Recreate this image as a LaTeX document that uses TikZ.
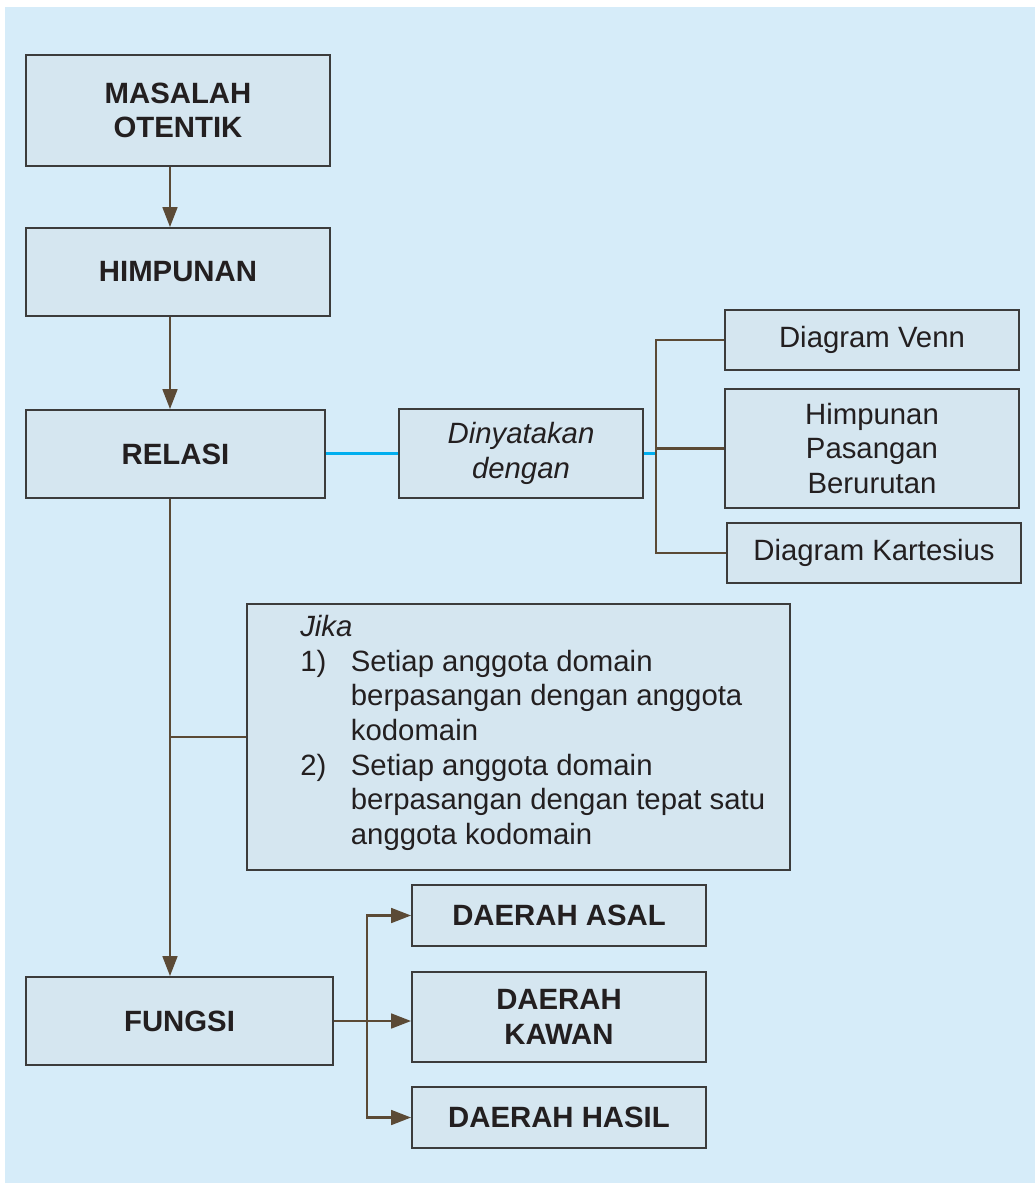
\documentclass[tikz,border=0pt]{standalone}
\usepackage{fontspec}
\setmainfont{Liberation Sans}
\usetikzlibrary{positioning}
\usetikzlibrary{arrows.meta}
\definecolor{panel}{HTML}{D6ECF9}
\definecolor{boxfill}{HTML}{D5E6F0}
\definecolor{boxline}{HTML}{3C3C3C}
\definecolor{linkbrown}{HTML}{5B4A36}
\definecolor{linkblue}{HTML}{00AEEF}
\definecolor{ink}{HTML}{231F20}
\tikzset{
  box/.style={draw=boxline, line width=1.3pt, fill=boxfill, text=ink, align=center,
    inner sep=0pt, font=\fontsize{22}{26}\selectfont},
  title/.style={box, font=\fontsize{22}{26}\selectfont\bfseries},
  link/.style={draw=linkbrown, line width=2pt},
  arrow/.style={link, -{Triangle[length=15pt,width=11pt]}},
  bluelink/.style={draw=linkblue, line width=2pt}
}

\begin{document}
\begin{tikzpicture}[x=0.75pt,y=-0.75pt]
            % background panel
            \useasboundingbox (0,0) rectangle (1035,1183);
            \fill[white] (0,0) rectangle (1035,1183);
            \fill[panel] (5,7) rectangle (1035,1183);
            % main column
            \node[title, minimum width=228pt, minimum height=83.25pt] (masalah) at (178,110.5) {MASALAH\\OTENTIK};
            \node[title, minimum width=228pt, minimum height=66pt] (himpunan) at (178,272) {HIMPUNAN};
            \node[title, minimum width=224.25pt, minimum height=66pt] (relasi) at (175.5,454) {RELASI};
            \node[title, minimum width=230.25pt, minimum height=66pt] (fungsi) at (179.5,1021) {FUNGSI};
            \coordinate (spine) at (170,0);
            \draw[arrow] (spine |- masalah.south) -- (spine |- himpunan.north);
            \draw[arrow] (spine |- himpunan.south) -- (spine |- relasi.north);
            \draw[arrow] (spine |- relasi.south) -- (spine |- fungsi.north);
            % representations of a relation
            \node[box, minimum width=183pt, minimum height=66.75pt, font=\fontsize{22}{26}\selectfont\itshape] (dinyatakan) at (521,453.5) {Dinyatakan\\dengan};
            \node[box, minimum width=220.5pt, minimum height=45pt] (venn) at (872,340) {Diagram Venn};
            \node[box, minimum width=220.5pt, minimum height=89.25pt] (pasangan) at (872,448.5) {Himpunan\\Pasangan\\Berurutan};
            \node[box, minimum width=220.5pt, minimum height=45pt] (kartesius) at (874,553) {Diagram Kartesius};
            \coordinate (bracket) at (656,453.5);
            \draw[bluelink] (relasi.east |- dinyatakan.west) -- (dinyatakan.west);
            \draw[bluelink] (dinyatakan.east) -- (bracket);
            \draw[link] (venn.west) -| (bracket |- kartesius.west) -- (kartesius.west);
            \draw[link] (bracket |- pasangan.west) -- (pasangan.west);
            % conditions for a function
            \node[box, minimum width=407.25pt, minimum height=199.5pt] (syarat) at (518.5,737) {};
            \node[anchor=north west, inner sep=0pt, text=ink, font=\fontsize{22}{26}\selectfont] (syarattext) at (300,612) {%
              \begin{tabular}{@{}p{38pt}@{}l@{}}
                \multicolumn{2}{@{}l@{}}{\itshape Jika}\\
                1) & Setiap anggota domain\\
                   & berpasangan dengan anggota\\
                   & kodomain\\
                2) & Setiap anggota domain\\
                   & berpasangan dengan tepat satu\\
                   & anggota kodomain
              \end{tabular}};
            \draw[link] (syarat.west) -- (spine |- syarat.west);
            % parts of a function
            \node[title, minimum width=220.5pt, minimum height=45.75pt] (asal) at (559,915.5) {DAERAH ASAL};
            \node[title, minimum width=220.5pt, minimum height=67.5pt] (kawan) at (559,1017) {DAERAH\\KAWAN};
            \node[title, minimum width=220.5pt, minimum height=45.75pt] (hasil) at (559,1117.5) {DAERAH HASIL};
            \coordinate (fork) at (367,0);
            \draw[arrow] (fungsi.east) -- (fungsi.east -| kawan.west);
            \draw[arrow] (fork |- kawan.west) |- (asal.west);
            \draw[arrow] (fork |- kawan.west) |- (hasil.west);
\end{tikzpicture}
\end{document}
